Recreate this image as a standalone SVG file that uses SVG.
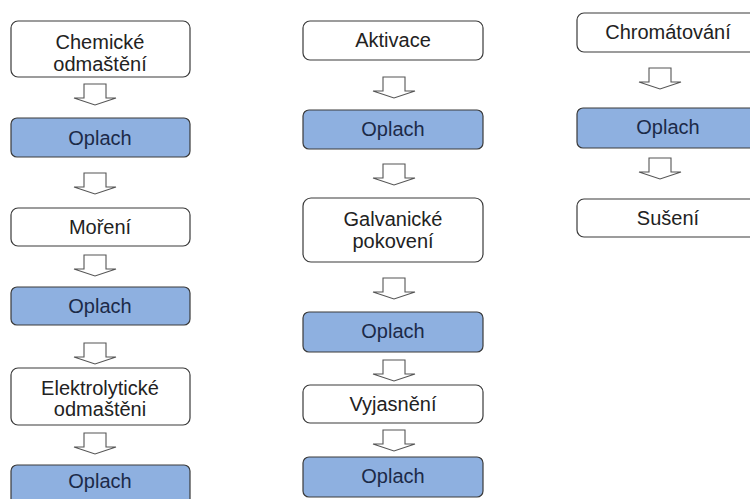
<svg xmlns="http://www.w3.org/2000/svg" xmlns:xlink="http://www.w3.org/1999/xlink" width="750" height="499" viewBox="0 0 750 499">
<defs>
<style>
.box{fill:#ffffff;stroke:#3a3a3a;stroke-width:1.2}
.rinse{fill:#8eb0e0;stroke:#3a3a3a;stroke-width:1.2}
text{font-family:"Liberation Sans",Arial,sans-serif;font-size:20px;text-anchor:middle}
.t{fill:#222222}
.tr{fill:#1c2a48}
.arr{fill:#ffffff;stroke:#555555;stroke-width:1.1;stroke-linejoin:miter}
</style>
<path id="arr" class="arr" d="M-11,0 H11 V14 H21 L0,21 L-21,14 H-11 Z"/>
</defs>
<rect width="750" height="499" fill="#ffffff"/>
<g id="connectors">
<use xlink:href="#arr" href="#arr" x="95" y="84"/>
<use xlink:href="#arr" href="#arr" x="95" y="173"/>
<use xlink:href="#arr" href="#arr" x="95" y="255"/>
<use xlink:href="#arr" href="#arr" x="95" y="343"/>
<use xlink:href="#arr" href="#arr" x="95" y="433"/>
<use xlink:href="#arr" href="#arr" x="394" y="77"/>
<use xlink:href="#arr" href="#arr" x="394" y="164"/>
<use xlink:href="#arr" href="#arr" x="394" y="278"/>
<use xlink:href="#arr" href="#arr" x="394" y="360"/>
<use xlink:href="#arr" href="#arr" x="394" y="430"/>
<use xlink:href="#arr" href="#arr" x="660" y="68"/>
<use xlink:href="#arr" href="#arr" x="660" y="158"/>
</g>
<g id="n1"><rect class="box" x="11" y="21" width="179" height="56" rx="7"/><text class="t" x="100" y="49">Chemické</text><text class="t" x="100" y="71">odmaštění</text></g>
<g id="n2"><rect class="rinse" x="11" y="118" width="179" height="39" rx="6"/><text class="tr" x="100" y="145">Oplach</text></g>
<g id="n3"><rect class="box" x="11" y="208" width="179" height="38" rx="7"/><text class="t" x="100" y="234">Moření</text></g>
<g id="n4"><rect class="rinse" x="11" y="287" width="179" height="38" rx="6"/><text class="tr" x="100" y="313">Oplach</text></g>
<g id="n5"><rect class="box" x="11" y="368" width="179" height="57" rx="7"/><text class="t" x="100" y="395">Elektrolytické</text><text class="t" x="100" y="416">odmaštěni</text></g>
<g id="n6"><rect class="rinse" x="11" y="465" width="179" height="40" rx="6"/><text class="tr" x="100" y="488">Oplach</text></g>
<g id="n7"><rect class="box" x="303" y="21" width="180" height="39" rx="7"/><text class="t" x="393" y="47">Aktivace</text></g>
<g id="n8"><rect class="rinse" x="303" y="110" width="180" height="39" rx="6"/><text class="tr" x="393" y="136">Oplach</text></g>
<g id="n9"><rect class="box" x="303" y="198" width="180" height="64" rx="8"/><text class="t" x="393" y="226">Galvanické</text><text class="t" x="393" y="248">pokovení</text></g>
<g id="n10"><rect class="rinse" x="303" y="312" width="180" height="40" rx="6"/><text class="tr" x="393" y="338">Oplach</text></g>
<g id="n11"><rect class="box" x="303" y="385" width="180" height="38" rx="7"/><text class="t" x="393" y="411">Vyjasnění</text></g>
<g id="n12"><rect class="rinse" x="303" y="457" width="180" height="40" rx="6"/><text class="tr" x="393" y="483">Oplach</text></g>
<g id="n13"><rect class="box" x="577" y="13" width="180" height="39" rx="7"/><text class="t" x="668" y="39">Chromátování</text></g>
<g id="n14"><rect class="rinse" x="577" y="108" width="180" height="40" rx="6"/><text class="tr" x="668" y="134">Oplach</text></g>
<g id="n15"><rect class="box" x="577" y="199" width="180" height="38" rx="7"/><text class="t" x="668" y="225">Sušení</text></g>
</svg>
